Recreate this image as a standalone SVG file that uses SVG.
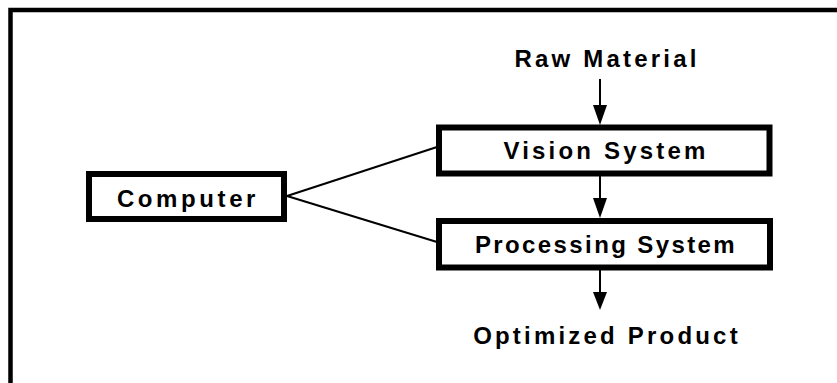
<svg xmlns="http://www.w3.org/2000/svg" width="837" height="383" viewBox="0 0 837 383">
<style>
.box{fill:#fff;stroke:#000;stroke-width:6}
.t{font-family:"Liberation Sans",Arial,sans-serif;font-weight:bold;font-size:24px;letter-spacing:3.2px;fill:#000;text-anchor:middle}
.ln{stroke:#000;stroke-width:2;fill:none}
</style>
<rect x="10.5" y="10" width="900" height="500" fill="none" stroke="#000" stroke-width="4.5"/>
<g id="connectors">
<line class="ln" x1="287" y1="196" x2="437" y2="147"/>
<line class="ln" x1="287" y1="196" x2="437" y2="242"/>
<line x1="600" y1="79" x2="600" y2="105" class="ln"/>
<path d="M593,105 L607,105 L600,125 Z" fill="#000"/>
<line x1="600" y1="176" x2="600" y2="198" class="ln"/>
<path d="M593,198 L607,198 L600,218 Z" fill="#000"/>
<line x1="600" y1="270" x2="600" y2="292" class="ln"/>
<path d="M593,292 L607,292 L600,310 Z" fill="#000"/>
</g>
<g id="raw"><text class="t" x="607" y="67">Raw Material</text></g>
<g id="vision"><rect class="box" x="439" y="127.5" width="330.5" height="46"/><text class="t" x="606" y="159">Vision System</text></g>
<g id="processing"><rect class="box" x="439" y="221" width="331" height="46.5"/><text class="t" x="606" y="253" style="letter-spacing:2.4px">Processing System</text></g>
<g id="computer"><rect class="box" x="89" y="174" width="195" height="45"/><text class="t" x="188" y="207" style="letter-spacing:3.6px">Computer</text></g>
<g id="optimized"><text class="t" x="607" y="344">Optimized Product</text></g>
</svg>
